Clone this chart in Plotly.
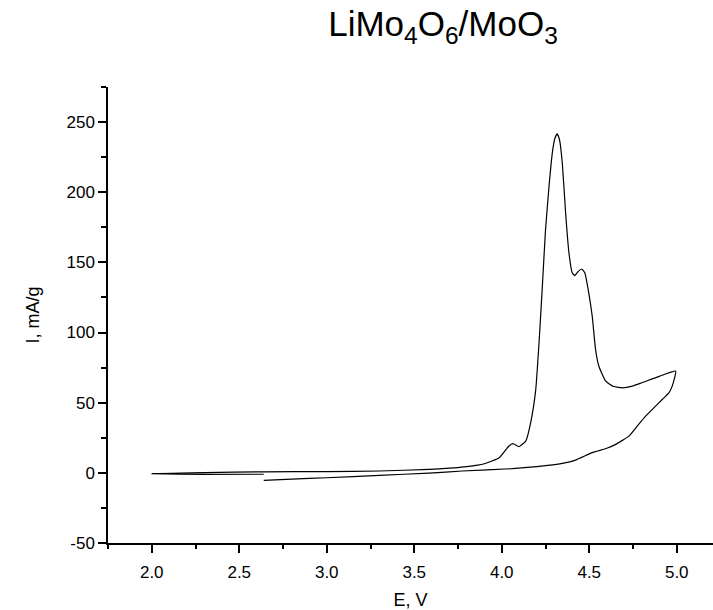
import plotly.graph_objects as go

# Anodic sweep from open-circuit potential up to 5.0 V (lower branch)
E_forward = [2.64, 2.8, 3.0, 3.3, 3.585, 3.774, 4.06, 4.2, 4.346, 4.422, 4.517, 4.6,
             4.651, 4.727, 4.774, 4.822, 4.879, 4.917, 4.955, 4.974, 4.994]
I_forward = [-5.3, -4.5, -3.5, -1.8, -0.2, 1.3, 3.0, 4.5, 6.8, 9.1, 14.4, 17.5,
             20.3, 26.2, 33.3, 40.4, 47.5, 52.3, 57.0, 61.8, 72.5]

# Reverse sweep from 5.0 V down to 2.0 V (upper branch with peaks)
E_reverse = [4.994, 4.9, 4.8, 4.746, 4.689, 4.64, 4.594, 4.555, 4.536, 4.517, 4.494,
             4.475, 4.457, 4.437, 4.418, 4.403, 4.384, 4.365, 4.346, 4.33, 4.317,
             4.304, 4.289, 4.27, 4.25, 4.231, 4.213, 4.194, 4.165, 4.137, 4.098,
             4.064, 4.04, 3.986, 3.9, 3.8, 3.7, 3.585, 3.3, 3.0, 2.64, 2.3, 2.0]
I_reverse = [73.0, 68.8, 64.2, 61.8, 60.6, 61.5, 65.3, 76.0, 87.9, 111.6, 130.6,
             142.5, 145.3, 143.6, 140.6, 142.5, 156.7, 185.0, 220.8, 237.4, 241.6,
             238.6, 228.0, 204.0, 173.0, 130.6, 92.7, 59.0, 35.7, 22.6, 18.6,
             20.8, 19.0, 10.8, 6.5, 4.4, 3.3, 2.5, 1.3, 0.9, 0.7, 0.2, -0.6]

# Return segment from 2.0 V back towards OCV
E_return = [2.0, 2.3, 2.64]
I_return = [-1.0, -1.1, -1.0]

x_ticks = [2.0, 2.5, 3.0, 3.5, 4.0, 4.5, 5.0]
y_ticks = [-50, 0, 50, 100, 150, 200, 250]

E_all = E_forward + E_reverse[1:] + E_return[1:]
I_all = I_forward + I_reverse[1:] + I_return[1:]

FONT = "Liberation Sans, Arial, sans-serif"

fig = go.Figure()
fig.add_trace(go.Scatter(x=E_all, y=I_all, mode="lines",
                         line=dict(color="black", width=1.2, shape="spline", smoothing=0.4),
                         showlegend=False, hoverinfo="skip"))

fig.update_layout(
    width=713, height=610,
    margin=dict(l=108, r=0, t=87, b=67),
    paper_bgcolor="white", plot_bgcolor="white",
    font=dict(family=FONT, color="black", size=17),
    title=dict(text="LiMo<sub>4</sub>O<sub>6</sub>/MoO<sub>3</sub>",
               x=443/713, xanchor="center", y=1-24/610, yanchor="middle",
               font=dict(family=FONT, size=35, color="black")),
)

fig.update_xaxes(range=[1.75, 1.75 + (713 - 108) / 175.0],
                 tickmode="array", tickvals=x_ticks, ticktext=[f"{v:.1f}" for v in x_ticks],
                 ticks="outside", ticklen=8, tickwidth=1.5, tickcolor="black",
                 ticklabelstandoff=5,
                 minor=dict(dtick=0.25, tick0=1.75, ticks="outside", ticklen=4,
                            tickwidth=1.5, tickcolor="black", showgrid=False),
                 showline=True, linecolor="black", linewidth=1.5,
                 showgrid=False, zeroline=False,
                 tickfont=dict(size=17), title=dict(text="E, V", font=dict(size=18), standoff=12))

fig.update_yaxes(range=[-50, 275],
                 tickmode="array", tickvals=y_ticks, ticktext=[str(v) for v in y_ticks],
                 ticks="outside", ticklen=8, tickwidth=1.5, tickcolor="black",
                 minor=dict(dtick=25, tick0=-50, ticks="outside", ticklen=5,
                            tickwidth=1.5, tickcolor="black", showgrid=False),
                 showline=True, linecolor="black", linewidth=1.5,
                 showgrid=False, zeroline=False,
                 tickfont=dict(size=17), title=dict(text="I, mA/g", font=dict(size=18), standoff=22))

fig.write_html("out.html")
